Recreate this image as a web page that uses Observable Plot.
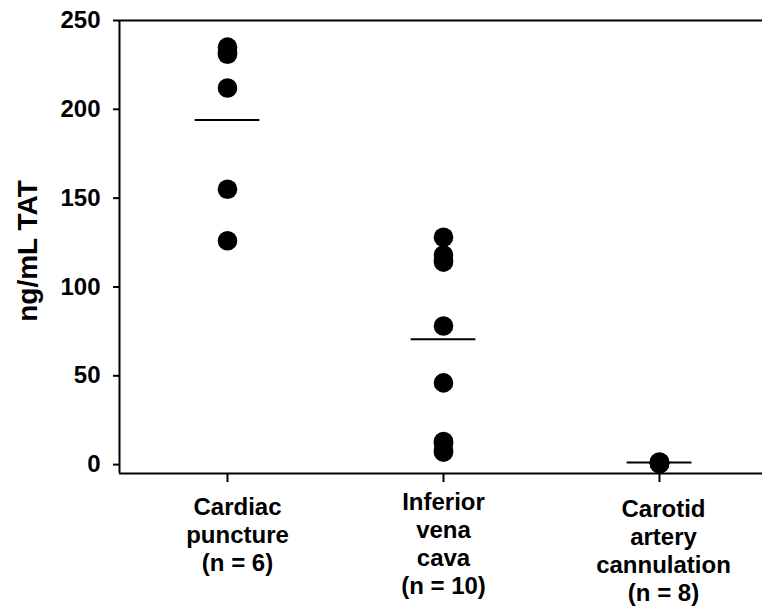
<!DOCTYPE html>
<html>
<head>
<meta charset="utf-8">
<script src="https://cdn.jsdelivr.net/npm/d3@7"></script>
<script src="https://cdn.jsdelivr.net/npm/@observablehq/plot@0.6"></script>
<style>
  html, body { margin: 0; padding: 0; background: #fff; }
  svg { display: block; }
</style>
</head>
<body>
<div id="chart"></div>
<script>
// ---- data ----
const categories = ["Cardiac\npuncture\n(n = 6)", "Inferior\nvena\ncava\n(n = 10)", "Carotid\nartery\ncannulation\n(n = 8)"];
const cardiacPuncture = [235, 232, 231, 212, 155, 126];
const inferiorVenaCava = [128, 118, 115, 114, 78, 46, 13, 12, 8, 7];
const carotidArtery = [1.5, 1.2, 1.0, 1.0, 0.8, 0.8, 0.6, 0.5];
const groupMeans = [194, 70.6, 1.2];
const yTicks = [0, 50, 100, 150, 200, 250];
const yLabel = "ng/mL TAT";

// ---- build table ----
const groups = [cardiacPuncture, inferiorVenaCava, carotidArtery];
const points = groups.flatMap((vals, i) => vals.map(v => ({group: i + 1, value: v})));
const means = groupMeans.map((m, i) => ({group: i + 1, value: m}));

const font = "'Liberation Sans', Arial, sans-serif";
const halfWidth = 0.15;
const labelDy = [22, 17, 24];
const labelDx = [10, 0, 4];

const chart = Plot.plot({
  width: 762,
  height: 609,
  marginTop: 20,
  marginLeft: 119,
  marginRight: 0,
  marginBottom: 136,
  style: {fontFamily: font, fontWeight: "bold", fontSize: "24px", color: "black", background: "white"},
  x: {domain: [0.5, 3.5], range: [119, 767]},
  y: {domain: [-5, 250]},
  marks: [
    Plot.axisY({ticks: yTicks, tickSize: 6, tickPadding: 13, label: null, strokeWidth: 2, fontSize: 24, fontWeight: "bold"}),
    Plot.axisX({ticks: [1, 2, 3], tickSize: 9, tickFormat: () => "", label: null, strokeWidth: 2}),
    Plot.ruleX([0.5], {y1: -5, y2: 250, stroke: "black", strokeWidth: 2}),
    Plot.ruleY([-5], {x1: 0.5, x2: 3.5, stroke: "black", strokeWidth: 2}),
    Plot.ruleY([250], {x1: 0.5, x2: 3.5, stroke: "black", strokeWidth: 2}),
    Plot.ruleY(means, {y: "value", x1: d => d.group - halfWidth, x2: d => d.group + halfWidth, stroke: "black", strokeWidth: 2}),
    Plot.dot(points, {x: "group", y: "value", r: 9.8, fill: "black", stroke: "none"}),
    ...categories.map((c, i) => Plot.text([c], {
      x: () => i + 1, frameAnchor: "bottom", lineAnchor: "top", dy: labelDy[i], dx: labelDx[i],
      fontSize: 24, fontWeight: "bold", lineHeight: 1.16, fill: "black"
    })),
    Plot.text([yLabel], {frameAnchor: "left", textAnchor: "middle", lineAnchor: "middle", rotate: -90, dx: -91, dy: 4, fontSize: 28, fontWeight: "bold", fill: "black"})
  ]
});
document.getElementById("chart").appendChild(chart);
</script>
</body>
</html>
